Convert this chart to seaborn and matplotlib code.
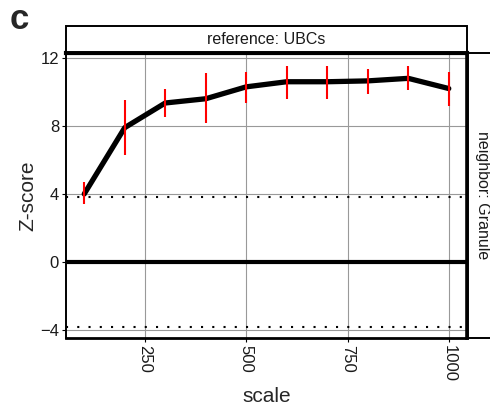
import matplotlib
matplotlib.use("Agg")
import matplotlib.pyplot as plt
import seaborn as sns
import pandas as pd
from matplotlib.patches import Rectangle

scale = [100, 200, 300, 400, 500, 600, 700, 800, 900, 1000]
zscore = [4.0, 7.9, 9.35, 9.6, 10.3, 10.6, 10.6, 10.65, 10.8, 10.2]
z_low = [3.4, 6.3, 8.5, 8.2, 9.35, 9.6, 9.6, 9.9, 10.1, 9.2]
z_high = [4.7, 9.5, 10.2, 11.1, 11.2, 11.5, 11.5, 11.35, 11.5, 11.2]
x_ticks = [250, 500, 750, 1000]
y_ticks = [-4, 0, 4, 8, 12]
threshold = 3.8
reference_label = "reference: UBCs"
neighbor_label = "neighbor: Granule"

df = pd.DataFrame({"scale": scale, "z": zscore, "lo": z_low, "hi": z_high})

sns.set_theme(style="white")
plt.rcParams["font.family"] = ["Liberation Sans", "DejaVu Sans"]

W, H = 490, 413
fig = plt.figure(figsize=(W / 100, H / 100), dpi=100)
ax = fig.add_axes([66 / W, 1 - 338 / H, 401 / W, 285 / H])

ax.set_xlim(55, 1045)
ax.set_ylim(-4.47, 12.29)
ax.set_xticks(x_ticks)
ax.set_yticks(y_ticks)
ax.set_yticklabels([str(t).replace("-", "\u2212") for t in y_ticks])
ax.grid(True, color="#999999", linewidth=0.8)
ax.set_axisbelow(True)

for yv in (threshold, -threshold):
    ax.axhline(yv, color="black", linewidth=1.5, linestyle=(0, (1, 4.4)), zorder=2)
ax.axhline(0, color="black", linewidth=3.0, zorder=2)

sns.lineplot(data=df, x="scale", y="z", ax=ax, color="black", linewidth=3.8, zorder=3)
ax.vlines(df["scale"], df["lo"], df["hi"], color="#ff0000", linewidth=1.5, zorder=4)

ax.set_xlabel("scale", fontsize=15, labelpad=4)
ax.set_ylabel("Z-score", fontsize=15, labelpad=2)
ax.tick_params(axis="both", labelsize=12, length=3, width=0.8, color="black", pad=2,
               left=True, bottom=True, labelcolor="#1a1a1a")
ax.tick_params(axis="x", labelrotation=-90)

for side, lw in (("left", 1.4), ("bottom", 2.0), ("top", 3.0), ("right", 2.6)):
    ax.spines[side].set_visible(True)
    ax.spines[side].set_color("black")
    ax.spines[side].set_linewidth(lw)

# top strip
fig.patches.append(Rectangle((66 / W, 1 - 52 / H), 401 / W, 26 / H, transform=fig.transFigure,
                             facecolor="white", edgecolor="black", linewidth=1.4, zorder=0))
fig.text((66 + 467) / 2 / W, 1 - 40 / H, reference_label, ha="center", va="center",
         fontsize=11.5, color="#1a1a1a")
# right strip
fig.patches.append(Rectangle((468 / W, 1 - 338 / H), 60 / W, 285 / H, transform=fig.transFigure,
                             facecolor="white", edgecolor="black", linewidth=1.4, zorder=0))
fig.text(482 / W, 1 - 195 / H, neighbor_label, ha="center", va="center", rotation=-90,
         fontsize=11.5, color="#1a1a1a")

fig.text(10 / W, 1 - 3 / H, "c", fontsize=25, fontweight="bold", ha="left", va="top")

fig.savefig("out.png", dpi=100)
